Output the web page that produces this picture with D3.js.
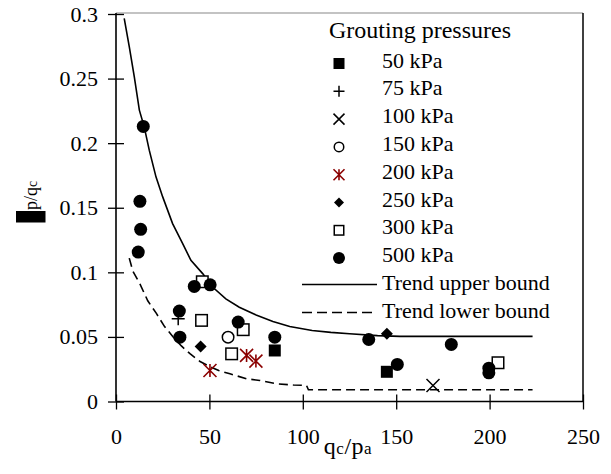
<!DOCTYPE html>
<html><head><meta charset="utf-8">
<script src="https://cdn.jsdelivr.net/npm/d3@7"></script>
<style>
html,body{margin:0;padding:0;background:#fff;}
svg{display:block;}
svg text{font-family:"Liberation Serif","Times New Roman","DejaVu Serif",serif;fill:#000;}
</style></head>
<body><svg id="chart" width="611" height="474"></svg>
<script>
// ---- data ----
const xTicks = [0, 50, 100, 150, 200, 250];
const yTicks = [0, 0.05, 0.1, 0.15, 0.2, 0.25, 0.3];
const yTickLabels = ["0", "0.05", "0.1", "0.15", "0.2", "0.25", "0.3"];

const seriesNames = ["50 kPa", "75 kPa", "100 kPa", "150 kPa", "200 kPa", "250 kPa", "300 kPa", "500 kPa"];
const p50x = [85, 145];            const p50y = [0.0395, 0.023];
const p75x = [33.3];               const p75y = [0.064];
const p100x = [169.7];             const p100y = [0.0124];
const p150x = [60];                const p150y = [0.0498];
const p200x = [50.3, 69.9, 74.9];  const p200y = [0.024, 0.0357, 0.0313];
const p250x = [45.3, 145];         const p250y = [0.0426, 0.0525];
const p300x = [46.2, 45.8, 61.9, 68.1, 204.5];
const p300y = [0.0927, 0.0628, 0.0369, 0.0556, 0.030];
const p500x = [14.6, 12.8, 13.2, 11.9, 41.9, 50.4, 33.9, 34.2, 65.4, 85, 135.3, 150.6, 179.5, 199.6, 199.6];
const p500y = [0.213, 0.155, 0.1333, 0.1157, 0.0891, 0.0903, 0.070, 0.0498, 0.0615, 0.0498, 0.048, 0.0287, 0.0442, 0.0258, 0.0222];

const upperX = [4.4, 7.1, 9.8, 12.5, 15.1, 17.8, 21.4, 25, 30.3, 35.7, 40.1, 46.4, 51.7, 58.8, 66, 75, 84, 93, 105, 115, 125, 140, 152, 180, 223];
const upperY = [0.2966, 0.2747, 0.2514, 0.2256, 0.2126, 0.1946, 0.1739, 0.1584, 0.1377, 0.1222, 0.1093, 0.099, 0.0886, 0.0795, 0.073, 0.067, 0.062, 0.058, 0.055, 0.0535, 0.0524, 0.051, 0.0504, 0.0504, 0.0504];
const lowerX = [7.1, 9, 12.8, 17, 21.7, 26, 30.6, 35, 39.6, 45, 50.3, 55, 61, 70, 77, 86, 95, 102, 103, 150, 223];
const lowerY = [0.111, 0.101, 0.091, 0.078, 0.068, 0.058, 0.050, 0.043, 0.037, 0.031, 0.027, 0.024, 0.0214, 0.0176, 0.0163, 0.0137, 0.0128, 0.0124, 0.0091, 0.0091, 0.0091];

// ---- layout ----
const FONT = '"Liberation Serif","Times New Roman","DejaVu Serif",serif';
const svg = d3.select("#chart");
const X0 = 116, X1 = 583, Y0 = 401.5, Y1 = 14;
const x = d3.scaleLinear().domain([0, 250]).range([X0, X1]);
const y = d3.scaleLinear().domain([0, 0.3]).range([Y0, Y1]);

// plot frame (top / right)
svg.append("line").attr("x1", X0).attr("x2", X1).attr("y1", Y1 - 1).attr("y2", Y1 - 1)
  .attr("stroke", "#888").attr("stroke-width", 1.2);
svg.append("line").attr("x1", X1).attr("x2", X1).attr("y1", Y1 - 1).attr("y2", Y0)
  .attr("stroke", "#000").attr("stroke-width", 1.5);

// axes
const yAxis = svg.append("g").attr("transform", `translate(${X0},0)`)
  .call(d3.axisLeft(y).tickValues(yTicks).tickFormat((d, i) => yTickLabels[i]).tickSize(8).tickPadding(10));
const xAxis = svg.append("g").attr("transform", `translate(0,${Y0})`)
  .call(d3.axisBottom(x).tickValues(xTicks).tickFormat(d => d).tickSize(8).tickPadding(19));
[yAxis, xAxis].forEach(g => {
  g.attr("font-family", FONT).attr("font-size", 22);
  g.select(".domain").attr("stroke", "#000").attr("stroke-width", 1.6);
  g.selectAll(".tick line").attr("stroke", "#000").attr("stroke-width", 1.3);
  g.selectAll(".tick text").attr("fill", "#000").style("font-family", FONT).style("font-size", "22px");
});
yAxis.select(".domain").attr("d", `M0,${Y1 - 1}V${Y0}`);
xAxis.select(".domain").attr("d", `M${X0},0H${X1}`);
yAxis.selectAll(".tick line").attr("x1", 8).attr("x2", -8);
xAxis.selectAll(".tick line").attr("y1", -7).attr("y2", 8);

// trend lines
const line = d3.line().x(d => x(d[0])).y(d => y(d[1]));
svg.append("path").datum(upperX.map((v, i) => [v, upperY[i]])).attr("d", line)
  .attr("fill", "none").attr("stroke", "#000").attr("stroke-width", 1.6);
svg.append("path").datum(lowerX.map((v, i) => [v, lowerY[i]])).attr("d", line)
  .attr("fill", "none").attr("stroke", "#000").attr("stroke-width", 1.6).attr("stroke-dasharray", "9,5");

// markers
function drawMarker(g, type, s) {
  const h = s / 2;
  if (type === "fsquare") g.append("rect").attr("x", -h).attr("y", -h).attr("width", s).attr("height", s).attr("fill", "#000");
  else if (type === "osquare") g.append("rect").attr("x", -h + 0.75).attr("y", -h + 0.75).attr("width", s - 1.5).attr("height", s - 1.5).attr("fill", "#fff").attr("stroke", "#000").attr("stroke-width", 1.5);
  else if (type === "fcircle") g.append("circle").attr("r", h).attr("fill", "#000");
  else if (type === "ocircle") g.append("circle").attr("r", h - 0.75).attr("fill", "#fff").attr("stroke", "#000").attr("stroke-width", 1.5);
  else if (type === "diamond") g.append("path").attr("d", `M0,${-h}L${h},0L0,${h}L${-h},0Z`).attr("fill", "#000");
  else if (type === "plus") g.append("path").attr("d", `M${-h},0H${h}M0,${-h}V${h}`).attr("stroke", "#000").attr("stroke-width", 1.5);
  else if (type === "cross") g.append("path").attr("d", `M${-h},${-h}L${h},${h}M${-h},${h}L${h},${-h}`).attr("stroke", "#000").attr("stroke-width", 1.5);
  else if (type === "star") g.append("path").attr("d", `M${-h},${-h}L${h},${h}M${-h},${h}L${h},${-h}M0,${-h}V${h}`).attr("stroke", "#8b0000").attr("stroke-width", 1.6);
}
const seriesX = [p50x, p75x, p100x, p150x, p200x, p250x, p300x, p500x];
const seriesY = [p50y, p75y, p100y, p150y, p200y, p250y, p300y, p500y];
const types = ["fsquare", "plus", "cross", "ocircle", "star", "diamond", "osquare", "fcircle"];
const chartSize = [12, 13, 13, 13, 13, 12, 13, 13];
const legSize = [11, 11, 11, 11, 11, 10, 11, 12];

seriesX.forEach((xs, si) => {
  const g = svg.append("g");
  xs.forEach((v, i) => {
    const m = g.append("g").attr("transform", `translate(${x(v)},${y(seriesY[si][i])})`);
    drawMarker(m, types[si], chartSize[si]);
  });
});

// legend
const leg = svg.append("g");
leg.append("text").attr("x", 329).attr("y", 38).style("font-family", FONT).style("font-size", "24px").text("Grouting pressures");
seriesNames.forEach((name, i) => {
  const by = 67.5 + i * 27.8;
  const m = leg.append("g").attr("transform", `translate(339,${by - 4})`);
  drawMarker(m, types[i], legSize[i]);
  leg.append("text").attr("x", 382).attr("y", by).style("font-family", FONT).style("font-size", "22px").text(name);
});
leg.append("line").attr("x1", 302).attr("x2", 377).attr("y1", 284.5).attr("y2", 284.5).attr("stroke", "#000").attr("stroke-width", 1.6);
leg.append("text").attr("x", 382).attr("y", 290).style("font-family", FONT).style("font-size", "22px").text("Trend upper bound");
leg.append("line").attr("x1", 302).attr("x2", 377).attr("y1", 312.5).attr("y2", 312.5).attr("stroke", "#000").attr("stroke-width", 1.6).attr("stroke-dasharray", "10,5");
leg.append("text").attr("x", 382).attr("y", 318).style("font-family", FONT).style("font-size", "22px").text("Trend lower bound");

// axis titles
const xt = svg.append("text").attr("x", 348).attr("y", 454).attr("text-anchor", "middle")
  .style("font-family", FONT).style("font-size", "24px").style("letter-spacing", "0.5px");
xt.append("tspan").text("q");
xt.append("tspan").style("font-size", "17px").text("c");
xt.append("tspan").text("/p");
xt.append("tspan").style("font-size", "17px").text("a");

const yt = svg.append("g").attr("transform", "translate(37,222.5) rotate(-90)");
yt.append("rect").attr("x", 0).attr("y", -21).attr("width", 11.5).attr("height", 29.5).attr("fill", "#000");
const ytt = yt.append("text").attr("x", 12.5).attr("y", 0).style("font-family", FONT).style("font-size", "18px");
ytt.append("tspan").text("p/q");
ytt.append("tspan").style("font-size", "14px").text("c");
</script>
</body></html>
